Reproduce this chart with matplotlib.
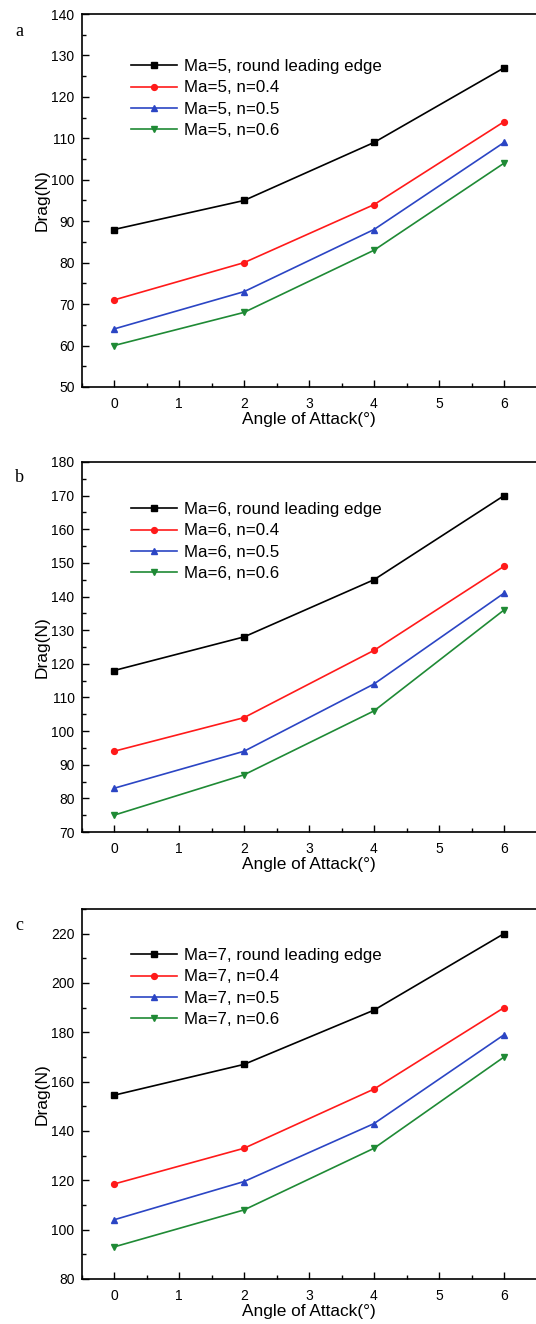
#!/usr/bin/env python3

import numpy as np
import matplotlib
matplotlib.use("Agg")
import matplotlib.pyplot as plt
from matplotlib.ticker import MultipleLocator

plt.rcParams['font.family'] = ['Liberation Sans', 'DejaVu Sans']

aoa = [0, 2, 4, 6]

# panel a, Ma=5
ma5_round = [88, 95, 109, 127]
ma5_n04 = [71, 80, 94, 114]
ma5_n05 = [64, 73, 88, 109]
ma5_n06 = [60, 68, 83, 104]

# panel b, Ma=6
ma6_round = [118, 128, 145, 170]
ma6_n04 = [94, 104, 124, 149]
ma6_n05 = [83, 94, 114, 141]
ma6_n06 = [75, 87, 106, 136]

# panel c, Ma=7
ma7_round = [154.5, 167, 189, 220]
ma7_n04 = [118.5, 133, 157, 190]
ma7_n05 = [104, 119.5, 143, 179]
ma7_n06 = [93, 108, 133, 170]

panels = [
    ("a", 5, [ma5_round, ma5_n04, ma5_n05, ma5_n06], (50, 140), 10),
    ("b", 6, [ma6_round, ma6_n04, ma6_n05, ma6_n06], (70, 180), 10),
    ("c", 7, [ma7_round, ma7_n04, ma7_n05, ma7_n06], (80, 230), 20),
]

colors = ["black", "#ff1a1a", "#2b45c4", "#1f8a35"]
markers = ["s", "o", "^", "v"]
suffix = ["round leading edge", "n=0.4", "n=0.5", "n=0.6"]

W, H = 536, 1324
fig = plt.figure(figsize=(W/100, H/100), dpi=100)

# axes boxes in pixels: left, top, bottom
boxes = [(81.5, 14, 387), (81.5, 462, 832), (81.5, 909, 1279)]
letter_y = [32, 477, 925]
legend_top = [59, 502, 948]

for i, (tag, ma, series, ylim, step) in enumerate(panels):
    l, t, b = boxes[i]
    ax = fig.add_axes([l/W, 1 - b/H, (536.5 - l)/W, (b - t)/H])
    for s, c, m, name in zip(series, colors, markers, suffix):
        ax.plot(aoa, s, color=c, marker=m, markersize=4.2, linewidth=1.2,
                label="Ma=%d, %s" % (ma, name))
    ax.set_xlim(-0.5, 6.5)
    ax.set_ylim(*ylim)
    ax.xaxis.set_major_locator(MultipleLocator(1))
    ax.xaxis.set_minor_locator(MultipleLocator(0.5))
    ax.yaxis.set_major_locator(MultipleLocator(step))
    ax.yaxis.set_minor_locator(MultipleLocator(step/2))
    ax.tick_params(which="both", direction="in", top=False, right=False,
                   labelsize=10, width=1.0)
    ax.tick_params(which="major", length=5)
    ax.tick_params(which="minor", length=3)
    ax.tick_params(axis="y", pad=5)
    ax.tick_params(axis="x", pad=7)
    ax.spines["right"].set_visible(False)
    for sp in ["left", "bottom", "top"]:
        ax.spines[sp].set_linewidth(1.2)
    ax.set_xlabel("Angle of Attack(°)", fontsize=12.4, labelpad=1)
    ax.set_ylabel("Drag(N)", fontsize=12.5, labelpad=1)
    # legend top edge in axes fraction
    ly = 1 - (legend_top[i] - t) / (b - t)
    ax.legend(loc="upper left", bbox_to_anchor=((131 - l)/(536.5 - l), ly),
              frameon=False, fontsize=12.2, handlelength=2.7,
              handletextpad=0.45, labelspacing=0.38, borderaxespad=0,
              borderpad=0)
    fig.text(15/W, 1 - letter_y[i]/H, tag, fontsize=13,
             family="Liberation Serif", va="center", ha="left")

fig.savefig("out.png", dpi=100)
